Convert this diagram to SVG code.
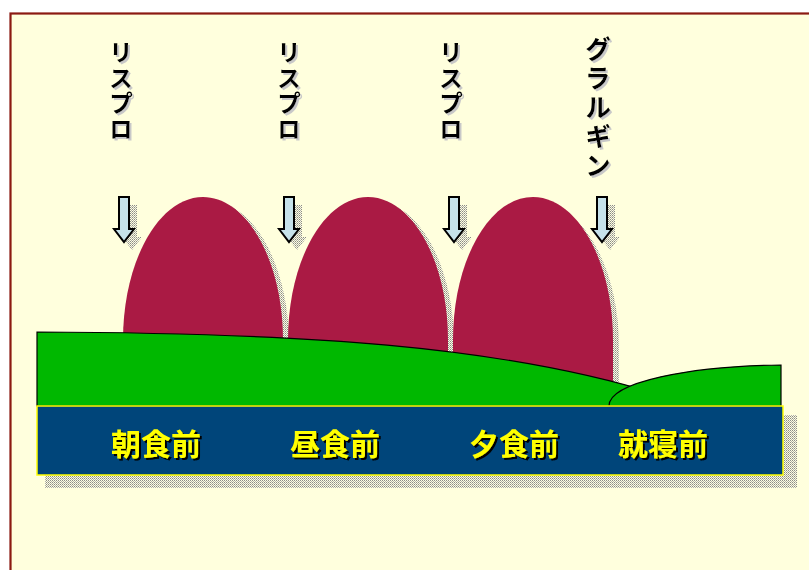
<svg xmlns="http://www.w3.org/2000/svg" width="809" height="570" viewBox="0 0 809 570">
<style>
.hump{fill:#AA1A44}
.hshadow{fill:url(#dots)}
.arrow{fill:#C6E2EA;stroke:#000;stroke-width:2;stroke-linejoin:miter}
.vtext{font-family:"Noto Sans CJK JP","Noto Sans",sans-serif;font-weight:700;font-size:24px;fill:#000;writing-mode:vertical-rl;text-orientation:upright;letter-spacing:1.5px;filter:url(#shGray)}
.label{font-family:"Noto Sans CJK JP","Noto Sans",sans-serif;font-weight:700;font-size:30px;fill:#FFFF00;text-anchor:middle;filter:url(#shBlack)}
.green{fill:#00B800;stroke:#000;stroke-width:1.2}
</style>
<defs>
<pattern id="dots" width="2" height="2" patternUnits="userSpaceOnUse">
<rect width="1" height="1" fill="#8a8a8a"/>
<rect x="1" y="1" width="1" height="1" fill="#b0b0b0"/>
</pattern>
<filter id="shGray" x="-30%" y="-10%" width="160%" height="120%">
<feOffset in="SourceAlpha" dx="2" dy="2" result="o"/>
<feFlood flood-color="#c8c8c8"/>
<feComposite in2="o" operator="in"/>
<feMerge><feMergeNode/><feMergeNode in="SourceGraphic"/></feMerge>
</filter>
<filter id="shBlack" x="-20%" y="-20%" width="160%" height="160%">
<feOffset in="SourceAlpha" dx="2" dy="2" result="o"/>
<feFlood flood-color="#000"/>
<feComposite in2="o" operator="in"/>
<feMerge><feMergeNode/><feMergeNode in="SourceGraphic"/></feMerge>
</filter>
<path id="humpShape" d="M-80,200 L-80,143 C-80,64 -44,0 0,0 C44,0 80,64 80,143 L80,200 Z"/>
<path id="arrowShape" d="M-5,0 L5,0 L5,32 L10,32 L0,45 L-10,32 L-5,32 Z"/>
</defs>
<rect x="0" y="0" width="809" height="570" fill="#FFFFFF"/>
<rect x="10.5" y="13.5" width="820" height="580" fill="#FFFFDD" stroke="#8B1A12" stroke-width="2.2"/>

<g id="humps">
<g id="hump1"><use href="#humpShape" class="hshadow" transform="translate(209,201)"/><use href="#humpShape" class="hump" transform="translate(203,197)"/></g>
<g id="hump2"><use href="#humpShape" class="hshadow" transform="translate(374,201)"/><use href="#humpShape" class="hump" transform="translate(368,197)"/></g>
<g id="hump3"><use href="#humpShape" class="hshadow" transform="translate(539,204)"/><use href="#humpShape" class="hump" transform="translate(533,197)"/></g>
</g>

<g id="connectors">
<use href="#arrowShape" fill="url(#dots)" transform="translate(132,205)"/>
<use href="#arrowShape" class="arrow" transform="translate(124,197)"/>
<use href="#arrowShape" fill="url(#dots)" transform="translate(297,205)"/>
<use href="#arrowShape" class="arrow" transform="translate(289,197)"/>
<use href="#arrowShape" fill="url(#dots)" transform="translate(462,205)"/>
<use href="#arrowShape" class="arrow" transform="translate(454,197)"/>
<use href="#arrowShape" fill="url(#dots)" transform="translate(610,205)"/>
<use href="#arrowShape" class="arrow" transform="translate(602,197)"/>
</g>

<g id="ground">
<path class="green" d="M37,406 L37,332 C300,333 500,345 660,395 L660,406 Z"/>
<path class="green" d="M609,406 C609,382 690,366 781,365 L781,406 Z"/>
</g>

<g id="band">
<rect x="45" y="415" width="752" height="73" fill="url(#dots)"/>
<rect x="37" y="406" width="746" height="69" fill="#00457A" stroke="#FFFF00" stroke-width="1.5"/>
<text class="label" x="156" y="455">朝食前</text>
<text class="label" x="335" y="455">昼食前</text>
<text class="label" x="514" y="455">夕食前</text>
<text class="label" x="663" y="455">就寝前</text>
</g>

<g id="drug1"><text class="vtext" x="121" y="40">リスプロ</text></g>
<g id="drug2"><text class="vtext" x="289" y="40">リスプロ</text></g>
<g id="drug3"><text class="vtext" x="451" y="40">リスプロ</text></g>
<g id="drug4"><text class="vtext" x="598" y="36" style="font-size:26px;letter-spacing:3px">グラルギン</text></g>
</svg>
